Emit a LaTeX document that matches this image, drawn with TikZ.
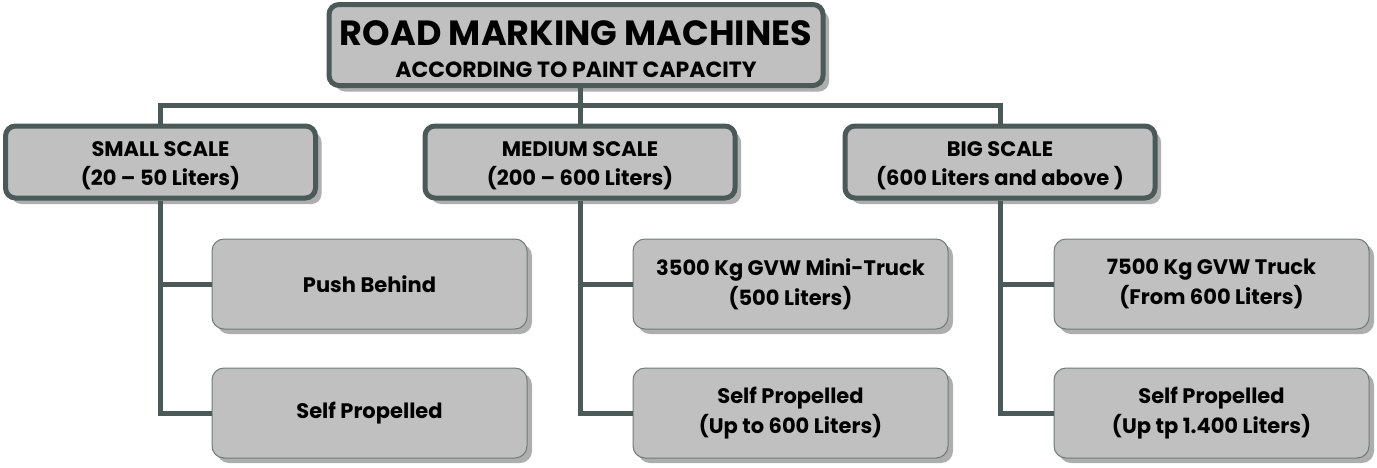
\documentclass[tikz,border=0pt]{standalone}
\usepackage{fontspec}
\setmainfont{Poppins}
\usetikzlibrary{positioning,shadows}

\definecolor{slate}{HTML}{4B5959}
\definecolor{boxfill}{HTML}{C0C0C0}
\definecolor{shade}{HTML}{AEAEAE}

\begin{document}
\begin{tikzpicture}
% Style
[
    x=1pt, y=-1pt, font=\bfseries,
    link/.style={draw=slate, line width=5pt},
    boxshadow/.style={drop shadow={shadow xshift=#1, shadow yshift=-#1, fill=shade, opacity=1}},
    head/.style={
        draw=slate, line width=5pt, fill=boxfill, rounded corners=10pt, align=center,
        minimum width=494pt, minimum height=81pt, inner sep=0pt, boxshadow=6pt,
        text height=64pt, text depth=0pt, font=\bfseries\fontsize{22}{32}\selectfont
    },
    scalebox/.style={
        draw=slate, line width=5pt, fill=boxfill, rounded corners=10pt, align=center,
        minimum width=310pt, minimum height=72pt, inner sep=0pt, boxshadow=6pt,
        text height=50pt, text depth=4pt, font=\bfseries\fontsize{21}{29}\selectfont
    },
    leaf/.style={
        draw=slate!80, line width=1pt, fill=boxfill, rounded corners=12pt, align=center,
        minimum width=315pt, minimum height=90pt, inner sep=0pt, boxshadow=5pt,
        font=\bfseries\fontsize{21}{30}\selectfont
    }
]
\useasboundingbox (0,0) rectangle (1377,467);

%=================================== Start ===================================
{
    \node[head] (top) at (576,45)
        {{\fontsize{35}{35}\selectfont ROAD MARKING MACHINES}\\
         ACCORDING TO PAINT CAPACITY};

    \node[scalebox] (small)  at (160.5,162) {SMALL SCALE\\(20 -- 50 Liters)};
    \node[scalebox] (medium) at (580,162)   {MEDIUM SCALE\\(200 -- 600 Liters)};
    \node[scalebox] (big)    at (1000,162)  {BIG SCALE\\(600 Liters and above )};

    \node[leaf] (small-a)  at (369.5,284) {Push Behind};
    \node[leaf] (small-b)  at (369.5,413) {Self Propelled};
    \node[leaf] (medium-a) at (790.5,284) {3500 Kg GVW Mini-Truck\\(500 Liters)};
    \node[leaf] (medium-b) at (790.5,413) {Self Propelled\\(Up to 600 Liters)};
    \node[leaf] (big-a)    at (1211.5,284) {7500 Kg GVW Truck\\(From 600 Liters)};
    \node[leaf] (big-b)    at (1211.5,413) {Self Propelled\\(Up tp 1.400 Liters)};

    \coordinate (bus) at (580,105);

    \begin{scope}[on background layer/.try]
    {
        \draw[link] (medium.north) -- (medium.north |- top.south);
        \draw[link] (small.north) |- (bus) -| (big.north);
        \foreach \b in {small, medium, big} {
            \draw[link] (\b.south) |- (\b-b.west);
            \draw[link] (\b.south |- \b-a.west) -- (\b-a.west);
        }
    }
    \end{scope}
}
%==================================== END ====================================

\end{tikzpicture}
\end{document}
